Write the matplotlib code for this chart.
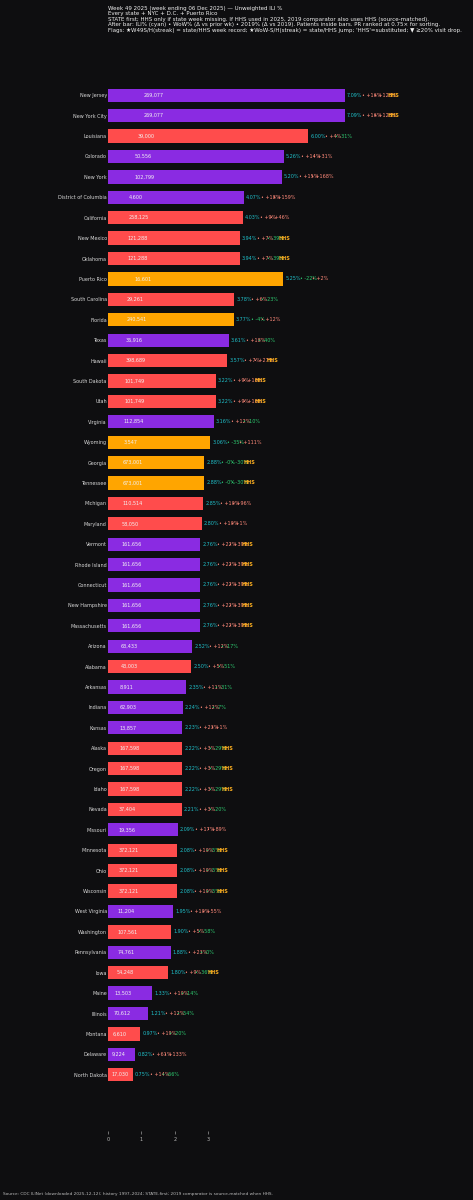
import matplotlib
matplotlib.use("Agg")
import matplotlib.pyplot as plt

# data (week 49 2025, sorted by ILI% with PR at 0.75x)
states = ["New Jersey", "New York City", "Louisiana", "Colorado", "New York",
          "District of Columbia", "California", "New Mexico", "Oklahoma", "Puerto Rico",
          "South Carolina", "Florida", "Texas", "Hawaii", "South Dakota", "Utah",
          "Virginia", "Wyoming", "Georgia", "Tennessee", "Michigan", "Maryland",
          "Vermont", "Rhode Island", "Connecticut", "New Hampshire", "Massachusetts",
          "Arizona", "Alabama", "Arkansas", "Indiana", "Kansas", "Alaska", "Oregon",
          "Idaho", "Nevada", "Missouri", "Minnesota", "Ohio", "Wisconsin",
          "West Virginia", "Washington", "Pennsylvania", "Iowa", "Maine", "Illinois",
          "Montana", "Delaware", "North Dakota"]
ili = [7.09, 7.09, 6.00, 5.26, 5.20, 4.07, 4.03, 3.94, 3.94, 5.25,
       3.78, 3.77, 3.61, 3.57, 3.22, 3.22, 3.16, 3.06, 2.88, 2.88,
       2.85, 2.80, 2.76, 2.76, 2.76, 2.76, 2.76, 2.52, 2.50, 2.35,
       2.24, 2.23, 2.22, 2.22, 2.22, 2.21, 2.09, 2.08, 2.08, 2.08,
       1.95, 1.90, 1.88, 1.80, 1.33, 1.21, 0.97, 0.82, 0.75]
patients = [269077, 269077, 39000, 50556, 102799, 4600, 258125, 121288, 121288, 16601,
            29261, 240541, 36916, 398689, 101749, 101749, 112854, 3547, 673001, 673001,
            110514, 58050, 161656, 161656, 161656, 161656, 161656, 63433, 43003, 8911,
            62903, 13857, 167598, 167598, 167598, 37404, 19356, 372121, 372121, 372121,
            11204, 107561, 74761, 54248, 13503, 70612, 6610, 9224, 17030]
wow = [16, 16, 4, 14, 15, 18, 9, 7, 7, -22,
       6, -4, 18, 7, 9, 9, 12, -35, -0.1, -0.1,
       10, 10, 22, 22, 22, 22, 22, 12, 5, 11,
       12, 23, 3, 3, 3, 3, 17, 10, 10, 10,
       10, 5, 23, 9, 10, 12, 19, 61, 14]
vs2019 = [128, 128, -31, 31, 168, 159, 46, -39, -39, 2,
          -23, 12, -40, 27, 16, 16, -10, 111, -30, -30,
          96, 1, 39, 39, 39, 39, 39, -17, -51, -31,
          -7, 1, -29, -29, -29, -20, 89, -5, -5, -5,
          55, -58, -0.1, -36, -14, -54, -20, 133, -66]
hhs = [1, 1, 0, 0, 0, 0, 0, 1, 1, 0,
       0, 0, 0, 1, 1, 1, 0, 0, 1, 1,
       0, 0, 1, 1, 1, 1, 1, 0, 0, 0,
       0, 0, 1, 1, 1, 0, 0, 1, 1, 1,
       0, 0, 0, 1, 0, 0, 0, 0, 0]
# P = purple, R = red, O = orange
bar_kind = "PPRPPPRRROROPRRRPOOORRPPPPPPRPPPRRRRPRRRPRPRPPRPR"

BG = "#0e0e10"
kind_colors = {"P": "#8a2be2", "R": "#ff4c4c", "O": "#ffa500"}
CYAN = "#1fbfc9"
UP = "#ff8a7a"
DOWN = "#2ecc71"
HHS_COL = "#ffb020"
FS = 3.5


def pct(v):
    if v < 0:
        return f"-{abs(round(v)):.0f}%"
    return f"+{v:.0f}%"


fig = plt.figure(figsize=(4.73, 12), dpi=100, facecolor=BG)
ax = fig.add_axes([0.2283, 0.0575, 0.7203, 0.91])
ax.set_facecolor(BG)

y = list(range(len(states)))
colors = [kind_colors[k] for k in bar_kind]
ax.barh(y, ili, height=0.65, color=colors)
ax.invert_yaxis()
ax.set_yticks(y)
ax.set_yticklabels(states, fontsize=FS, color="#d8d8d8")
ax.tick_params(axis="y", length=0, pad=0.8)
ax.set_xlim(0, 10.2)
ax.set_xticks([0, 1, 2, 3])
ax.tick_params(axis="x", colors="#bbbbbb", labelsize=FS, length=2, width=0.4, pad=2)
for s in ax.spines.values():
    s.set_visible(False)

px = 0.72  # points per pixel
for i in y:
    v = ili[i]
    ax.text(v * 0.15, i, f"{patients[i]:,}", va="center", ha="left",
            fontsize=FS, color="#f2f2f2")
    w_txt = "• " + pct(wow[i])
    y_txt = "• " + pct(vs2019[i])
    kw = dict(xy=(v, i), textcoords="offset points", va="center", ha="left",
              fontsize=FS, annotation_clip=False)
    ax.annotate(f"{v:.2f}%", xytext=(2 * px, 0), color=CYAN, **kw)
    off = 17
    ax.annotate(w_txt, xytext=(off * px, 0), color=UP if wow[i] > 0 else DOWN, **kw)
    off += 2.0 * len(w_txt)
    ax.annotate(y_txt, xytext=(off * px, 0), color=UP if vs2019[i] > 0 else DOWN, **kw)
    off += 2.0 * len(y_txt)
    if hhs[i]:
        ax.annotate("HHS", xytext=(off * px, 0), color=HHS_COL, fontweight="bold", **kw)

title = ("Week 49 2025 (week ending 06 Dec 2025) — Unweighted ILI %\n"
         "Every state + NYC + D.C. + Puerto Rico\n"
         "STATE first; HHS only if state week missing. If HHS used in 2025, 2019 comparator also uses HHS (source-matched).\n"
         "After bar: ILI% (cyan) • WoW% (Δ vs prior wk) • 2019% (Δ vs 2019). Patients inside bars. PR ranked at 0.75× for sorting.\n"
         "Flags: ★W49S/H(streak) = state/HHS week record; ★WoW-S/H(streak) = state/HHS jump; 'HHS'=substituted; ▼ ≥20% visit drop.")
ax.set_title(title, loc="left", fontsize=4.0, color="#f0f0f0", pad=5, linespacing=1.1)

fig.text(0.006, 0.0035, "Source: CDC ILINet (downloaded 2025-12-12); history 1997–2024; STATE-first; "
         "2019 comparator is source-matched when HHS.", fontsize=3.05, color="#bbbbbb",
         ha="left", va="bottom")

fig.savefig("out.png", dpi=100, facecolor=BG)
